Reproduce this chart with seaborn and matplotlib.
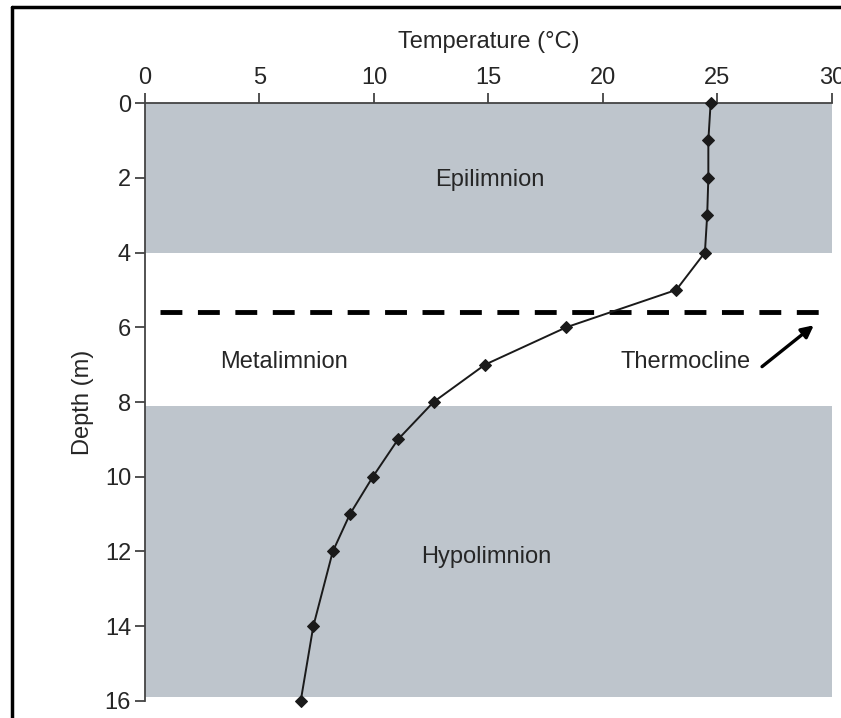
import numpy as np
import pandas as pd
import matplotlib
matplotlib.use("Agg")
import matplotlib.pyplot as plt
import seaborn as sns
from matplotlib.lines import Line2D

depth = [0, 1, 2, 3, 4, 5, 6, 7, 8, 9, 10, 11, 12, 14, 16]
temperature = [24.7, 24.6, 24.6, 24.55, 24.45, 23.2, 18.4, 14.85, 12.6, 11.05, 9.95, 8.95, 8.2, 7.35, 6.8]

layer_names = ["Epilimnion", "Metalimnion", "Hypolimnion"]
layer_tops = [0, 4, 8.1]
layer_bottoms = [4, 8.1, 15.9]
layer_shaded = [True, False, True]
thermocline_depth = 5.6

sns.set_style("ticks")
plt.rcParams['font.family'] = ['Liberation Sans', 'DejaVu Sans']

df = pd.DataFrame({"Temperature": temperature, "Depth": depth})

fig = plt.figure(figsize=(8.41, 7.18), dpi=100)
ax = fig.add_axes([0.1724, 0.0237, 0.8169, 0.8328])

# layer shading
for top, bot, shade in zip(layer_tops, layer_bottoms, layer_shaded):
    if shade:
        ax.axhspan(top, bot, xmin=0, xmax=1, color='#bec5cc', lw=0, zorder=0)

# thermocline
ax.plot([0.65, 30], [thermocline_depth, thermocline_depth], color='black',
        lw=3.5, dashes=(4.5, 3.2), zorder=2)

sns.lineplot(data=df, x="Temperature", y="Depth", sort=False, orient="y",
             color='#1a1a1a', lw=1.4, marker='D', markersize=6.5,
             markeredgecolor='#1a1a1a', ax=ax, zorder=3, clip_on=False)

fs = 17
ax.text(15.07, 2.06, layer_names[0], fontsize=fs, ha='center', va='center')
ax.text(6.07, 6.93, layer_names[1], fontsize=fs, ha='center', va='center')
ax.text(14.9, 12.14, layer_names[2], fontsize=fs, ha='center', va='center')
ax.text(23.6, 6.93, "Thermocline", fontsize=fs, ha='center', va='center')
ax.annotate("", xy=(29.3, 5.9), xytext=(26.85, 7.1),
            arrowprops=dict(arrowstyle='-|>', color='black', lw=2.4,
                            mutation_scale=18))

ax.set_xlim(0, 30)
ax.set_ylim(16, 0)
ax.set_xticks([0, 5, 10, 15, 20, 25, 30])
ax.set_yticks(np.arange(0, 17, 2))
ax.xaxis.set_label_position('top')
ax.tick_params(axis='x', top=True, labeltop=True, bottom=False, labelbottom=False,
               labelsize=fs, length=7, width=1.2, color='#333333', pad=3)
ax.tick_params(axis='y', labelsize=fs, length=7, width=1.2, color='#333333', pad=3)
ax.set_xlabel("Temperature (°C)", fontsize=fs, labelpad=14)
ax.set_ylabel("Depth (m)", fontsize=fs, labelpad=8)

for side in ['right', 'bottom']:
    ax.spines[side].set_visible(False)
for side in ['top', 'left']:
    ax.spines[side].set_color('#444444')
    ax.spines[side].set_linewidth(1.3)

# outer frame (cropped figure border)
fig.add_artist(Line2D([12 / 841, 12 / 841], [0, 1 - 7 / 718], color='black', lw=2.5))
fig.add_artist(Line2D([12 / 841, 1], [1 - 7 / 718, 1 - 7 / 718], color='black', lw=2.5))

fig.savefig("out.png", dpi=100)
